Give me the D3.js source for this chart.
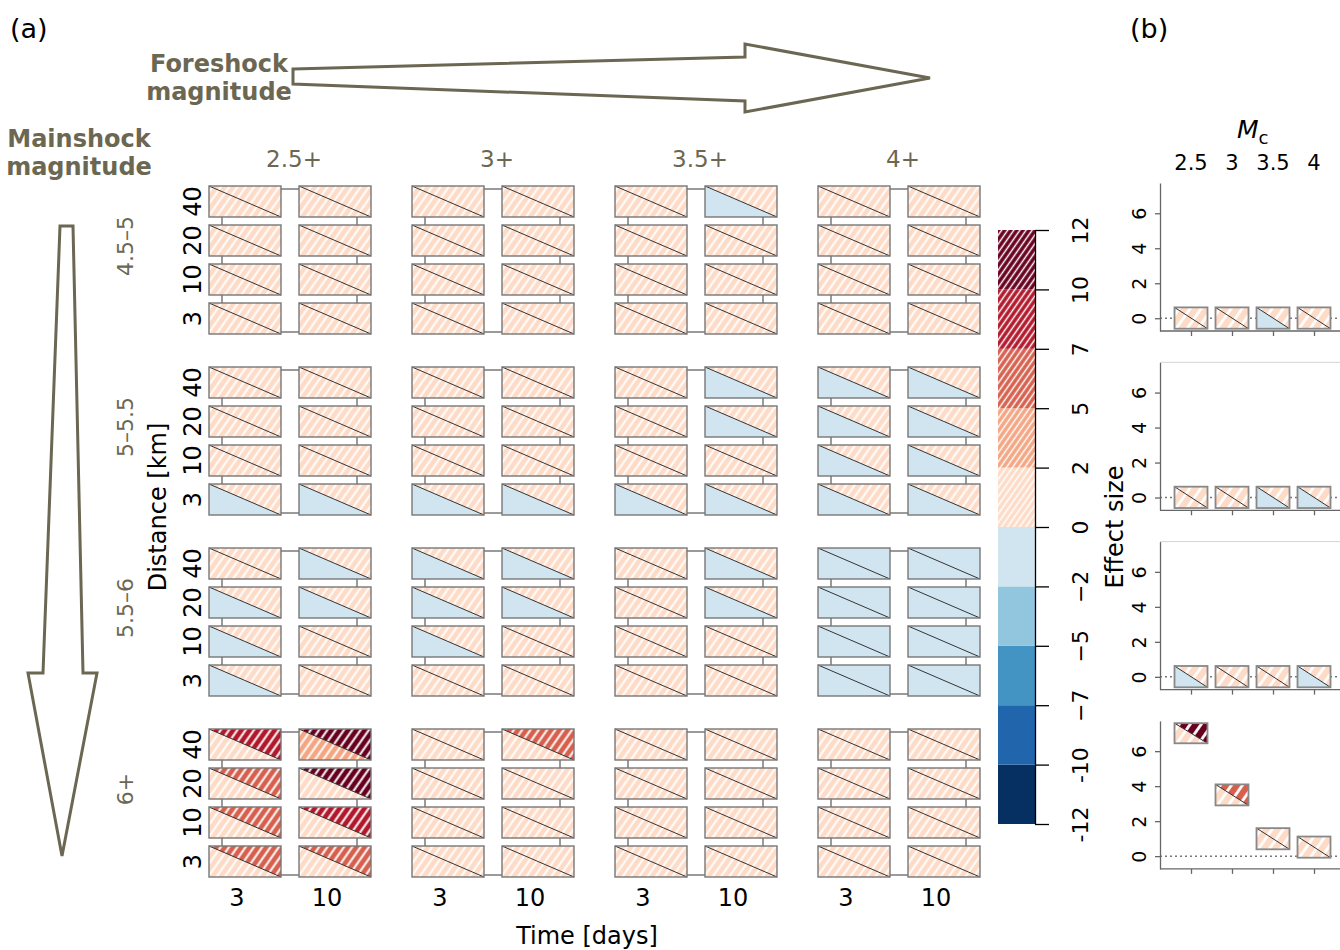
<!DOCTYPE html>
<html>
<head>
<meta charset="utf-8">
<script src="https://cdn.jsdelivr.net/npm/d3@7"></script>
<style>
body { margin: 0; background: #fff; }
text { font-family: "DejaVu Sans", sans-serif; }
</style>
</head>
<body>
<svg id="fig" width="1340" height="950"></svg>
<script>
// ---- data ----
var foreshockMags = ["2.5+", "3+", "3.5+", "4+"];
var mainshockMags = ["4.5–5", "5–5.5", "5.5–6", "6+"];
var distances = ["40", "20", "10", "3"];
var timeWindows = ["3", "10"];

// effect size classes (colorbar)
var binEdges = [-12, -10, -7, -5, -2, 0, 2, 5, 7, 10, 12];
var binLabels = ["-12", "-10", "\u22127", "\u22125", "\u22122", "0", "2", "5", "7", "10", "12"];
var binColors = ["#053061", "#2166AC", "#4393C3", "#92C5DE", "#D1E5F0",
                 "#FDDBC7", "#F4A582", "#D6604D", "#B2182B", "#67001F"];

// class of lower / upper bound, per mainshock group: [foreshock][time][distance 40,20,10,3]
var lower_45 = [[[5,5,5,5],[5,5,5,5]], [[5,5,5,5],[5,5,5,5]], [[5,5,5,5],[4,5,5,5]], [[5,5,5,5],[5,5,5,5]]];
var upper_45 = [[[5,5,5,5],[5,5,5,5]], [[5,5,5,5],[5,5,5,5]], [[5,5,5,5],[5,5,5,5]], [[5,5,5,5],[5,5,5,5]]];
var lower_50 = [[[5,5,5,4],[5,5,5,4]], [[5,5,5,4],[5,5,5,4]], [[5,5,5,4],[4,4,5,4]], [[4,4,4,4],[4,4,4,4]]];
var upper_50 = [[[5,5,5,5],[5,5,5,5]], [[5,5,5,5],[5,5,5,5]], [[5,5,5,5],[5,5,5,5]], [[5,5,5,5],[5,5,5,5]]];
var lower_55 = [[[5,4,4,4],[4,4,5,5]], [[4,4,4,5],[4,4,5,5]], [[5,5,5,5],[4,4,5,5]], [[4,4,4,4],[4,4,4,4]]];
var upper_55 = [[[5,5,5,5],[5,5,5,5]], [[5,5,5,5],[5,5,5,5]], [[5,5,5,5],[5,5,5,5]], [[4,4,4,4],[4,4,4,4]]];
var lower_60 = [[[5,5,5,5],[6,5,5,5]], [[5,5,5,5],[5,5,5,5]], [[5,5,5,5],[5,5,5,5]], [[5,5,5,5],[5,5,5,5]]];
var upper_60 = [[[8,7,7,7],[9,9,8,7]], [[5,5,5,5],[7,5,5,5]], [[5,5,5,5],[5,5,5,5]], [[5,5,5,5],[5,5,5,5]]];
var lowerBins = [lower_45, lower_50, lower_55, lower_60];
var upperBins = [upper_45, upper_50, upper_55, upper_60];

// panel (b)
var mcLevels = ["2.5", "3", "3.5", "4"];
var bTicks = [0, 2, 4, 6];
var bLow  = [[-0.6,-0.6,-0.6,-0.6], [-0.6,-0.6,-0.6,-0.6], [-0.6,-0.6,-0.6,-0.6], [6.45, 2.9, 0.39, -0.09]];
var bHigh = [[0.62,0.62,0.62,0.62], [0.62,0.62,0.62,0.62], [0.62,0.62,0.62,0.62], [7.6, 4.1, 1.6, 1.12]];
var bLowBin  = [[5,5,4,5], [5,5,4,4], [4,5,5,4], [5,5,5,5]];
var bHighBin = [[5,5,5,5], [5,5,5,5], [5,5,5,5], [9,7,5,5]];

var olive = "#6B6752";
var svg = d3.select("#fig");
var defs = svg.append("defs");

// hatch patterns for positive classes
function makeHatch(id, color, size, lw) {
    var p = defs.append("pattern").attr("id", id)
        .attr("patternUnits", "userSpaceOnUse")
        .attr("width", size).attr("height", size)
        .attr("patternTransform", "rotate(35)");
    p.append("rect").attr("width", size).attr("height", size).attr("fill", color);
    p.append("line").attr("x1", size / 2).attr("x2", size / 2)
        .attr("y1", 0).attr("y2", size)
        .attr("stroke", "#fff").attr("stroke-width", lw);
}
binColors.forEach(function(c, i) {
    if (binEdges[i] >= 0) {
        makeHatch("cell" + i, c, 6.8, 2);
        makeHatch("bar" + i, c, 5, 1.5);
        makeHatch("pb" + i, c, 9, 2.8);
    }
});
function fillFor(prefix, bin) {
    return binEdges[bin] >= 0 ? "url(#" + prefix + bin + ")" : binColors[bin];
}

// split box: lower-left triangle = lower bound, upper-right = upper bound
function splitBox(g, w, h, lo, hi, prefix, stroke, sw) {
    g.append("path").attr("d", "M0,0L0," + h + "L" + w + "," + h + "Z")
        .attr("fill", fillFor(prefix, lo));
    g.append("path").attr("d", "M0,0L" + w + ",0L" + w + "," + h + "Z")
        .attr("fill", fillFor(prefix, hi));
    g.append("line").attr("x1", 0).attr("y1", 0).attr("x2", w).attr("y2", h)
        .attr("stroke", "#333").attr("stroke-width", 1);
    g.append("rect").attr("width", w).attr("height", h)
        .attr("fill", "none").attr("stroke", stroke).attr("stroke-width", sw);
}

// ---- panel (a) ----
var cellW = 72, cellH = 31;
var xGroup = d3.scalePoint().domain(foreshockMags).range([209, 818]);
var xTime = d3.scalePoint().domain(timeWindows).range([0, 90]);
var yGroup = d3.scalePoint().domain(mainshockMags).range([186, 729]);
var yDist = d3.scalePoint().domain(distances).range([0, 117]);

mainshockMags.forEach(function(ms, gi) {
    foreshockMags.forEach(function(fs, fi) {
        var g = svg.append("g")
            .attr("transform", "translate(" + xGroup(fs) + "," + yGroup(ms) + ")");
        // frame linking the cells
        g.append("rect").attr("x", 13).attr("y", 3)
            .attr("width", xTime.range()[1] + cellW - 27)
            .attr("height", yDist.range()[1] + cellH - 5)
            .attr("fill", "none").attr("stroke", "#7a7a7a").attr("stroke-width", 1.5);
        timeWindows.forEach(function(t, ti) {
            distances.forEach(function(d, di) {
                var c = g.append("g")
                    .attr("transform", "translate(" + xTime(t) + "," + yDist(d) + ")");
                c.append("rect").attr("width", cellW).attr("height", cellH).attr("fill", "#fff");
                splitBox(c, cellW, cellH, lowerBins[gi][fi][ti][di], upperBins[gi][fi][ti][di],
                    "cell", "#777", 1.4);
            });
        });
    });
    // distance labels
    distances.forEach(function(d) {
        var y = yGroup(ms) + yDist(d) + cellH / 2;
        svg.append("text").attr("transform", "translate(201," + y + ") rotate(-90)")
            .attr("text-anchor", "middle").attr("font-size", 24).text(d);
    });
    // mainshock labels
    var ym = yGroup(ms) + (yDist.range()[1] + cellH) / 2 - 14;
    svg.append("text").attr("transform", "translate(133," + ym + ") rotate(-90)")
        .attr("text-anchor", "middle").attr("font-size", 22).attr("fill", olive).text(ms);
});

foreshockMags.forEach(function(fs) {
    svg.append("text").attr("x", xGroup(fs) + (xTime.range()[1] + cellW) / 2 + 4).attr("y", 167)
        .attr("text-anchor", "middle").attr("font-size", 23).attr("fill", olive).text(fs);
    timeWindows.forEach(function(t) {
        svg.append("text").attr("x", xGroup(fs) + xTime(t) + cellW / 2 - 8).attr("y", 906)
            .attr("text-anchor", "middle").attr("font-size", 24).text(t);
    });
});

svg.append("text").attr("transform", "translate(166,507) rotate(-90)")
    .attr("text-anchor", "middle").attr("font-size", 24).text("Distance [km]");
svg.append("text").attr("x", 587).attr("y", 944)
    .attr("text-anchor", "middle").attr("font-size", 24).text("Time [days]");

// colorbar
var yBar = d3.scalePoint().domain(binEdges).range([824, 230]);
binColors.forEach(function(c, i) {
    svg.append("rect").attr("x", 998).attr("width", 37)
        .attr("y", yBar(binEdges[i + 1])).attr("height", yBar(binEdges[i]) - yBar(binEdges[i + 1]))
        .attr("fill", fillFor("bar", i));
});
var barAxis = svg.append("g").attr("transform", "translate(1035,0)")
    .call(d3.axisRight(yBar).tickSize(14).tickSizeOuter(0)
        .tickFormat(function(d, i) { return binLabels[i]; }));
barAxis.select(".domain").attr("stroke", "#000").attr("stroke-width", 1.3);
barAxis.selectAll(".tick line").attr("stroke-width", 1.3);
barAxis.selectAll(".tick text")
    .attr("x", null).attr("dy", null)
    .attr("transform", "translate(53,0) rotate(-90)")
    .attr("text-anchor", "middle").attr("font-size", 22)
    .attr("font-family", "DejaVu Sans").attr("fill", "#000");
svg.append("text").attr("transform", "translate(1123,527) rotate(-90)")
    .attr("text-anchor", "middle").attr("font-size", 24).text("Effect size");

// arrows
var hArrow = [[293,69],[745,57],[745,44],[930,78],[745,112],[745,101],[293,84]];
var vArrow = [[60,226],[73,226],[83,673],[97,673],[62,856],[28,673],[43,673]];
[hArrow, vArrow].forEach(function(pts) {
    svg.append("path").attr("d", d3.line()(pts) + "Z")
        .attr("fill", "#fff").attr("stroke", olive).attr("stroke-width", 3)
        .attr("stroke-linejoin", "miter");
});
function boldLabel(x, y, lines) {
    var t = svg.append("text").attr("x", x).attr("y", y).attr("text-anchor", "middle")
        .attr("font-family", "Noto Sans").attr("font-weight", 700)
        .attr("font-size", 24).attr("fill", olive);
    lines.forEach(function(s, i) {
        t.append("tspan").attr("x", x).attr("dy", i ? 28 : 0).text(s);
    });
}
boldLabel(219, 72, ["Foreshock", "magnitude"]);
boldLabel(79, 147, ["Mainshock", "magnitude"]);

svg.append("text").attr("x", 10).attr("y", 38).attr("font-family", "Liberation Sans")
    .attr("font-size", 27).text("(a)");
svg.append("text").attr("x", 1130).attr("y", 38).attr("font-family", "Liberation Sans")
    .attr("font-size", 27).text("(b)");

// ---- panel (b) ----
var xB = d3.scalePoint().domain(mcLevels).range([1191, 1314]);
var boxW = 33, bStep = 179.3;
mainshockMags.forEach(function(ms, k) {
    var y = d3.scaleLinear().domain([-0.73, 7.73]).range([331 + k * bStep, 183 + k * bStep]);
    if (k === 1 || k === 2) {
        svg.append("line").attr("x1", 1160).attr("x2", 1340)
            .attr("y1", y.range()[1]).attr("y2", y.range()[1])
            .attr("stroke", "#d4d4d4").attr("stroke-width", 1);
    }
    svg.append("line").attr("x1", 1160).attr("x2", 1340).attr("y1", y(0)).attr("y2", y(0))
        .attr("stroke", "#777").attr("stroke-width", 1.5).attr("stroke-dasharray", "2,3");
    var ay = svg.append("g").attr("transform", "translate(1160,0)")
        .call(d3.axisLeft(y).tickValues(bTicks).tickSize(5).tickSizeOuter(0).tickPadding(6));
    ay.selectAll(".domain, .tick line").attr("stroke", "#666").attr("stroke-width", 1.3);
    ay.selectAll(".tick text")
        .attr("x", null).attr("dy", null)
        .attr("transform", "translate(-14,0) rotate(-90)")
        .attr("text-anchor", "middle").attr("font-size", 19)
        .attr("font-family", "DejaVu Sans").attr("fill", "#000");
    var ax = svg.append("g").attr("transform", "translate(0," + y.range()[0] + ")")
        .call(d3.axisBottom(xB).tickSize(5).tickSizeOuter(0).tickFormat(""));
    ax.select(".domain").remove();
    ax.selectAll(".tick line").attr("stroke", "#666").attr("stroke-width", 1.3);
    ax.append("line").attr("x1", 1160).attr("x2", 1340)
        .attr("stroke", "#666").attr("stroke-width", 1.3);

    mcLevels.forEach(function(m, j) {
        var g = svg.append("g")
            .attr("transform", "translate(" + (xB(m) - boxW / 2) + "," + y(bHigh[k][j]) + ")");
        splitBox(g, boxW, y(bLow[k][j]) - y(bHigh[k][j]), bLowBin[k][j], bHighBin[k][j],
            "pb", "#888", 1.8);
    });
});
mcLevels.forEach(function(m) {
    svg.append("text").attr("x", xB(m)).attr("y", 170).attr("text-anchor", "middle")
        .attr("font-size", 21).text(m);
});
var mc = svg.append("text").attr("x", 1237).attr("y", 138).attr("font-size", 25);
mc.append("tspan").attr("font-style", "italic").text("M");
mc.append("tspan").attr("font-size", 18).attr("dy", 6).text("c");
</script>
</body>
</html>
